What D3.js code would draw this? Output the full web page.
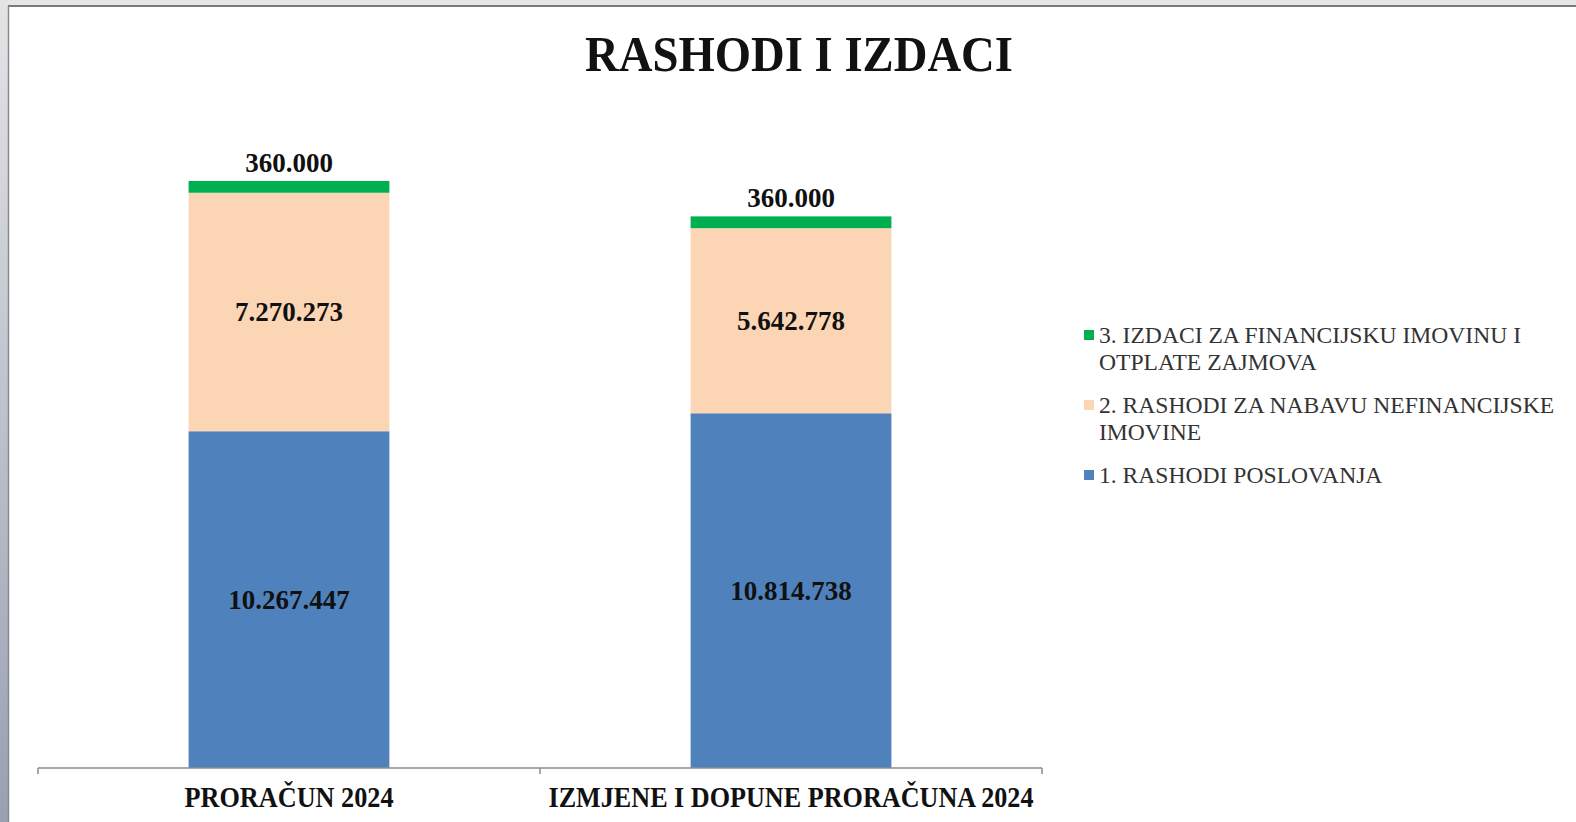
<!DOCTYPE html>
<html><head><meta charset="utf-8">
<script src="https://cdn.jsdelivr.net/npm/d3@7"></script>
<style>
html,body{margin:0;padding:0;background:#fff;overflow:hidden}
svg{display:block}
</style></head>
<body>
<svg id="chart" width="1576" height="822"></svg>
<script>
// ---- data ----
const title = "RASHODI I IZDACI";
const categories = ["PRORAČUN 2024", "IZMJENE I DOPUNE PRORAČUNA 2024"];
const seriesNames = [
  "1. RASHODI POSLOVANJA",
  "2. RASHODI ZA NABAVU NEFINANCIJSKE IMOVINE",
  "3. IZDACI ZA FINANCIJSKU IMOVINU I OTPLATE ZAJMOVA"
];
const rashodiPoslovanja = [10267447, 10814738];
const rashodiNefinancijske = [7270273, 5642778];
const izdaciFinancijske = [360000, 360000];
const seriesColors = ["#4F81BD", "#FCD5B5", "#00B050"];

// ---- build ----
const svg = d3.select("#chart");
const W = 1576, H = 822;
const serif = "'Liberation Serif','Times New Roman',serif";

// frame
const defs = svg.append("defs");
const lg = defs.append("linearGradient").attr("id","leftg").attr("x1",0).attr("y1",0).attr("x2",0).attr("y2",1);
lg.append("stop").attr("offset","0%").attr("stop-color","#e4e4e6");
lg.append("stop").attr("offset","100%").attr("stop-color","#98a0b2");
svg.append("rect").attr("x",0).attr("y",0).attr("width",W).attr("height",6).attr("fill","#e6e6e6");
svg.append("rect").attr("x",0).attr("y",0).attr("width",8).attr("height",H).attr("fill","url(#leftg)");
svg.append("line").attr("x1",8).attr("x2",W).attr("y1",6).attr("y2",6).attr("stroke","#7a7a7a").attr("stroke-width",2);
svg.append("line").attr("x1",8.5).attr("x2",8.5).attr("y1",6).attr("y2",H).attr("stroke","#8a8a8a").attr("stroke-width",1.5);

const locale = d3.formatLocale({decimal:",", thousands:".", grouping:[3], currency:["","€"]});
const fmt = locale.format(",d");

const rows = categories.map((c,i)=>({cat:c, s0:rashodiPoslovanja[i], s1:rashodiNefinancijske[i], s2:izdaciFinancijske[i]}));
const keys = ["s0","s1","s2"];
const stacked = d3.stack().keys(keys)(rows);

const x = d3.scaleBand().domain(categories).range([38,1042]).paddingInner(0.6).paddingOuter(0.3);
const y = d3.scaleLinear().domain([0,20000000]).range([768, 768 - 20*32.8]);

// bars
const layers = svg.append("g").selectAll("g").data(stacked).join("g").attr("fill",(d,i)=>seriesColors[i]);
layers.selectAll("rect").data(d=>d).join("rect")
  .attr("x",d=>x(d.data.cat)).attr("width",x.bandwidth())
  .attr("y",d=>y(d[1])).attr("height",d=>y(d[0])-y(d[1]));

// labels
stacked.forEach((layer,li)=>{
  svg.append("g").selectAll("text").data(layer).join("text")
    .attr("x",d=>x(d.data.cat)+x.bandwidth()/2)
    .attr("y",d=> li===2 ? y(d[1]) - 9 : (y(d[0])+y(d[1]))/2 + 9)
    .attr("text-anchor","middle")
    .attr("font-family",serif).attr("font-weight","bold").attr("font-size",27)
    .attr("fill","#111")
    .text(d=>fmt(d[1]-d[0]));
});

// axis
const ax = svg.append("g").attr("transform","translate(0,768)");
ax.append("line").attr("x1",38).attr("x2",1042).attr("y1",0).attr("y2",0).attr("stroke","#8c8c8c").attr("stroke-width",1.5);
const bounds = [38].concat(categories.map(c=>x(c) - x.step()*x.paddingInner()/2 + x.step()));
bounds[bounds.length-1] = 1042;
ax.selectAll("line.tick").data(bounds).join("line").attr("class","tick")
  .attr("x1",d=>d).attr("x2",d=>d).attr("y1",0).attr("y2",6).attr("stroke","#8c8c8c").attr("stroke-width",1.5);
const catWidths = [209, 485];
ax.selectAll("text").data(categories).join("text")
  .attr("x",d=>x(d)+x.bandwidth()/2).attr("y",39)
  .attr("text-anchor","middle")
  .attr("font-family",serif).attr("font-weight","bold").attr("font-size",30)
  .attr("textLength",(d,i)=>catWidths[i]).attr("lengthAdjust","spacingAndGlyphs")
  .attr("fill","#111").text(d=>d);

// title
svg.append("text").attr("x",799).attr("y",71).attr("text-anchor","middle")
  .attr("font-family",serif).attr("font-weight","bold").attr("font-size",51)
  .attr("textLength",428).attr("lengthAdjust","spacingAndGlyphs")
  .attr("fill","#111").text(title);

// legend (reverse order)
const legendOrder = [2,1,0];
const leg = svg.append("g");
const lfs = 23.6;
let ly = 343;
const maxW = 500;
legendOrder.forEach(si=>{
  const words = seriesNames[si].split(" ");
  const lines = [];
  let cur = "";
  const probe = leg.append("text").attr("font-family",serif).attr("font-size",lfs);
  words.forEach(w=>{
    const t = cur ? cur+" "+w : w;
    probe.text(t);
    if (probe.node().getComputedTextLength() > maxW && cur) { lines.push(cur); cur = w; }
    else cur = t;
  });
  lines.push(cur);
  probe.remove();
  leg.append("rect").attr("x",1084).attr("y",ly-13).attr("width",10).attr("height",10).attr("fill",seriesColors[si]);
  lines.forEach((ln,k)=>{
    leg.append("text").attr("x",1099).attr("y",ly + k*27)
      .attr("font-family",serif).attr("font-size",lfs).attr("fill","#333").text(ln);
  });
  ly += lines.length*27 + 16;
});
</script>
</body></html>
